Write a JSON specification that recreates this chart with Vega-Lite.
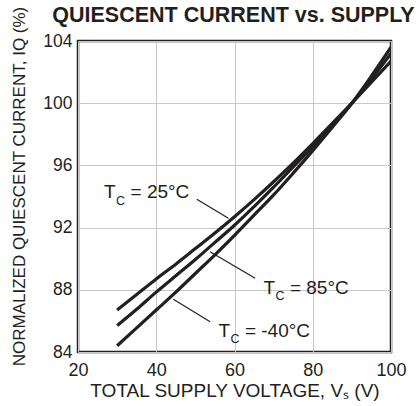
{
  "$schema": "https://vega.github.io/schema/vega-lite/v6.json",
  "width": 313,
  "height": 311,
  "autosize": {"type": "none"},
  "padding": {"left": 78, "top": 41, "right": 26, "bottom": 54},
  "background": "white",
  "config": {
    "font": "Liberation Sans",
    "view": {"stroke": "#231f20", "strokeWidth": 2.5},
    "axis": {
      "domain": false,
      "ticks": false,
      "grid": true,
      "gridColor": "#c8c8c8",
      "gridWidth": 1,
      "labelColor": "#231f20",
      "titleColor": "#231f20",
      "titleFontWeight": "normal",
      "labelFlush": false,
      "labelOverlap": false
    }
  },
  "title": {
    "text": "QUIESCENT CURRENT vs. SUPPLY",
    "font": "Liberation Sans",
    "fontSize": 21.5,
    "fontWeight": "bold",
    "color": "#231f20",
    "anchor": "middle",
    "offset": 16,
    "dy": 36,
    "dx": -1
  },
  "datasets": {
    "curves": [
      {"tc": "25", "v": 30, "iq": 86.7}, {"tc": "25", "v": 35, "iq": 87.7}, {"tc": "25", "v": 40, "iq": 88.7},
      {"tc": "25", "v": 45, "iq": 89.65}, {"tc": "25", "v": 50, "iq": 90.65}, {"tc": "25", "v": 55, "iq": 91.65},
      {"tc": "25", "v": 60, "iq": 92.7}, {"tc": "25", "v": 65, "iq": 93.8}, {"tc": "25", "v": 70, "iq": 94.95},
      {"tc": "25", "v": 75, "iq": 96.15}, {"tc": "25", "v": 80, "iq": 97.4}, {"tc": "25", "v": 85, "iq": 98.7},
      {"tc": "25", "v": 90, "iq": 100.0}, {"tc": "25", "v": 95, "iq": 101.35}, {"tc": "25", "v": 100, "iq": 102.7},
      {"tc": "85", "v": 30, "iq": 85.7}, {"tc": "85", "v": 35, "iq": 86.75}, {"tc": "85", "v": 40, "iq": 87.85},
      {"tc": "85", "v": 45, "iq": 88.9}, {"tc": "85", "v": 50, "iq": 89.95}, {"tc": "85", "v": 55, "iq": 91.05},
      {"tc": "85", "v": 60, "iq": 92.15}, {"tc": "85", "v": 65, "iq": 93.35}, {"tc": "85", "v": 70, "iq": 94.6},
      {"tc": "85", "v": 75, "iq": 95.9}, {"tc": "85", "v": 80, "iq": 97.2}, {"tc": "85", "v": 85, "iq": 98.55},
      {"tc": "85", "v": 90, "iq": 100.0}, {"tc": "85", "v": 95, "iq": 101.55}, {"tc": "85", "v": 100, "iq": 103.2},
      {"tc": "-40", "v": 30, "iq": 84.4}, {"tc": "-40", "v": 35, "iq": 85.55}, {"tc": "-40", "v": 40, "iq": 86.7},
      {"tc": "-40", "v": 45, "iq": 87.85}, {"tc": "-40", "v": 50, "iq": 89.05}, {"tc": "-40", "v": 55, "iq": 90.25},
      {"tc": "-40", "v": 60, "iq": 91.5}, {"tc": "-40", "v": 65, "iq": 92.8}, {"tc": "-40", "v": 70, "iq": 94.1},
      {"tc": "-40", "v": 75, "iq": 95.5}, {"tc": "-40", "v": 80, "iq": 96.95}, {"tc": "-40", "v": 85, "iq": 98.45},
      {"tc": "-40", "v": 90, "iq": 100.0}, {"tc": "-40", "v": 95, "iq": 101.75}, {"tc": "-40", "v": 100, "iq": 103.6}
    ],
    "labels": [
      {"x": 26.65, "y": 93.88, "t": "= 25°C"},
      {"x": 67.39, "y": 87.75, "t": "= 85°C"},
      {"x": 55.88, "y": 84.98, "t": "= -40°C"}
    ],
    "leaders": [
      {"x1": 50.36, "y1": 93.82, "x2": 58.44, "y2": 92.6},
      {"x1": 53.76, "y1": 90.45, "x2": 65.27, "y2": 88.74},
      {"x1": 44.37, "y1": 87.39, "x2": 53.76, "y2": 85.95}
    ]
  },
  "layer": [
    {
      "data": {"name": "curves"},
      "mark": {"type": "line", "interpolate": "monotone", "strokeWidth": 3.2, "color": "#231f20", "clip": true},
      "encoding": {
        "x": {
          "field": "v", "type": "quantitative",
          "scale": {"domain": [20, 100]},
          "axis": {
            "values": [20, 40, 60, 80, 100],
            "title": "TOTAL SUPPLY VOLTAGE, Vₛ (V)",
            "titleFontSize": 19,
            "titlePadding": 2,
            "labelFontSize": 18,
            "labelPadding": 9
          }
        },
        "y": {
          "field": "iq", "type": "quantitative",
          "scale": {"domain": [84, 104]},
          "axis": {
            "values": [84, 88, 92, 96, 100, 104],
            "title": "NORMALIZED QUIESCENT CURRENT, IQ (%)",
            "titleFontSize": 17,
            "titlePadding": 14,
            "titleY": 145,
            "labelFontSize": 17.5,
            "labelPadding": 6
          }
        },
        "detail": {"field": "tc"}
      }
    },
    {
      "data": {"name": "leaders"},
      "mark": {"type": "rule", "strokeWidth": 1.2, "color": "#231f20"},
      "encoding": {
        "x": {"field": "x1", "type": "quantitative"},
        "y": {"field": "y1", "type": "quantitative"},
        "x2": {"field": "x2"},
        "y2": {"field": "y2"}
      }
    },
    {
      "data": {"name": "labels"},
      "mark": {"type": "text", "text": "T", "align": "left", "baseline": "alphabetic", "fontSize": 19, "color": "#231f20"},
      "encoding": {
        "x": {"field": "x", "type": "quantitative"},
        "y": {"field": "y", "type": "quantitative"}
      }
    },
    {
      "data": {"name": "labels"},
      "mark": {"type": "text", "text": "C", "align": "left", "baseline": "alphabetic", "fontSize": 12.5, "dx": 12, "dy": 6.5, "color": "#231f20"},
      "encoding": {
        "x": {"field": "x", "type": "quantitative"},
        "y": {"field": "y", "type": "quantitative"}
      }
    },
    {
      "data": {"name": "labels"},
      "mark": {"type": "text", "align": "left", "baseline": "alphabetic", "fontSize": 19, "dx": 26.5, "color": "#231f20"},
      "encoding": {
        "x": {"field": "x", "type": "quantitative"},
        "y": {"field": "y", "type": "quantitative"},
        "text": {"field": "t"}
      }
    }
  ]
}
